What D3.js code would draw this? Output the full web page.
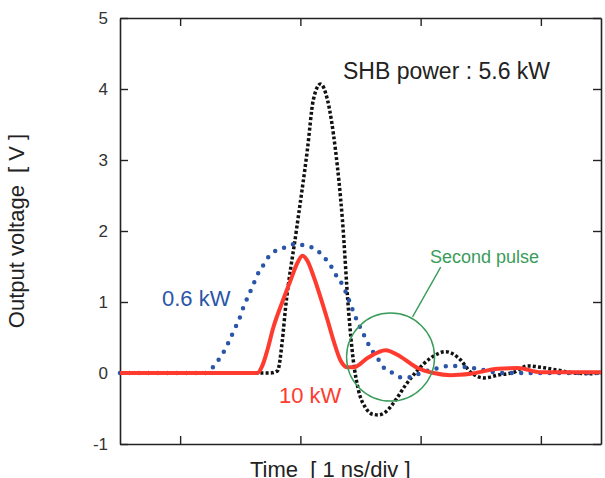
<!DOCTYPE html>
<html>
<head>
<meta charset="utf-8">
<script src="https://cdn.jsdelivr.net/npm/d3@7"></script>
<style>
  body { margin: 0; background: #fff; }
  text { font-family: "Liberation Sans", Arial, Helvetica, sans-serif; white-space: pre; }
</style>
</head>
<body>
<div id="chart"></div>
<script>
// time in ns (1 ns per division), voltage in V
var t_black = [-0.5, 0.75, 0.81, 0.85, 0.875, 0.967, 1.058, 1.108, 1.167, 1.225, 1.292, 1.35, 1.4, 1.44, 1.483, 1.542, 1.6, 1.65, 1.708, 1.792, 1.875, 1.975, 2.083, 2.208, 2.317, 2.417, 2.525, 2.642, 2.775, 2.892, 3.0, 3.142, 3.275, 3.417, 3.5];
var v_black = [0, 0, 0.03, 0.46, 0.89, 2.01, 3.14, 3.85, 4.07, 3.85, 3.14, 2.15, 0.89, 0.18, -0.24, -0.49, -0.58, -0.59, -0.55, -0.38, -0.17, 0.04, 0.21, 0.30, 0.21, 0.01, -0.07, -0.03, 0.01, 0.10, 0.08, 0.04, 0, -0.01, 0.01];

var t_blue = [-0.5, 0.208, 0.267, 0.317, 0.367, 0.408, 0.45, 0.492, 0.525, 0.6, 0.642, 0.692, 0.733, 0.792, 0.875, 0.958, 1.042, 1.125, 1.183, 1.242, 1.292, 1.35, 1.392, 1.425, 1.458, 1.5, 1.542, 1.583, 1.642, 1.692, 1.767, 1.833, 1.917, 2.0, 2.125, 2.25, 2.392, 2.525, 2.667, 3.5];
var v_blue = [0, 0, 0.07, 0.18, 0.31, 0.45, 0.61, 0.76, 0.92, 1.21, 1.38, 1.52, 1.63, 1.72, 1.77, 1.82, 1.79, 1.75, 1.65, 1.54, 1.39, 1.24, 1.08, 0.93, 0.79, 0.63, 0.49, 0.35, 0.21, 0.08, 0, -0.06, -0.06, 0, 0.06, 0.10, 0.08, 0.04, 0, 0];

var t_red = [-0.5, 0.642, 0.683, 0.725, 0.775, 0.85, 0.917, 0.975, 1.017, 1.058, 1.108, 1.167, 1.225, 1.275, 1.333, 1.392, 1.442, 1.558, 1.708, 1.833, 1.975, 2.108, 2.25, 2.417, 2.642, 2.808, 3.0, 3.192, 3.5];
var v_red = [0, 0, 0.1, 0.32, 0.64, 1.0, 1.3, 1.55, 1.65, 1.58, 1.37, 1.07, 0.75, 0.46, 0.18, 0.08, 0.08, 0.21, 0.32, 0.23, 0.07, 0, -0.03, -0.01, 0.06, 0.07, 0.01, 0.01, 0.01];

var y_ticks = [-1, 0, 1, 2, 3, 4, 5];
var x_ticks = [0, 1, 2, 3];

var width  = 605;
var height = 478;
var plot_left = 120, plot_right = 601, plot_top = 18, plot_bottom = 444;

var x_scale = d3.scaleLinear().domain([-0.5, 3.5]).range([plot_left, plot_right]);
var y_scale = d3.scaleLinear().domain([-1, 5]).range([plot_bottom, plot_top]);

var svg = d3.select('#chart')
	.append('svg')
	.attr('width', width)
	.attr('height', height);

function pairs(ts, vs) {
	return ts.map(function(t, i) { return { t: t, v: vs[i] }; });
}

// axes, ticks pointing inward on all four sides
var axis_color = '#222';
var y_left = svg.append('g')
	.attr('transform', 'translate(' + plot_left + ',0)')
	.call(d3.axisLeft(y_scale).tickValues(y_ticks).tickSize(-8).tickSizeOuter(0).tickPadding(12)
		.tickFormat(function(d) { return String(d); }));
svg.append('g')
	.attr('transform', 'translate(' + plot_right + ',0)')
	.call(d3.axisRight(y_scale).tickValues(y_ticks).tickSize(-8).tickSizeOuter(0).tickFormat(''));
svg.append('g')
	.attr('transform', 'translate(0,' + plot_bottom + ')')
	.call(d3.axisBottom(x_scale).tickValues(x_ticks).tickSize(-8).tickSizeOuter(0).tickFormat(''));
svg.append('g')
	.attr('transform', 'translate(0,' + plot_top + ')')
	.call(d3.axisTop(x_scale).tickValues(x_ticks).tickSize(-8).tickSizeOuter(0).tickFormat(''));

svg.selectAll('.domain').attr('stroke', axis_color).attr('stroke-width', 1.6);
svg.selectAll('.tick line').attr('stroke', axis_color).attr('stroke-width', 1.4);
y_left.selectAll('.tick text')
	.attr('font-size', 17)
	.attr('fill', '#333')
	.style('font-family', '"Liberation Sans", Arial, sans-serif');

// curves
var line = d3.line()
	.x(function(d) { return x_scale(d.t); })
	.y(function(d) { return y_scale(d.v); })
	.curve(d3.curveMonotoneX);

svg.append('path')
	.datum(pairs(t_black, v_black))
	.attr('fill', 'none')
	.attr('stroke', '#111')
	.attr('stroke-width', 3.5)
	.attr('stroke-dasharray', '3,2.2')
	.attr('d', line);

svg.append('path')
	.datum(pairs(t_blue, v_blue))
	.attr('fill', 'none')
	.attr('stroke', '#2a55a8')
	.attr('stroke-width', 4.5)
	.attr('stroke-linecap', 'round')
	.attr('stroke-dasharray', '0,9.5')
	.attr('d', line);

svg.append('path')
	.datum(pairs(t_red, v_red))
	.attr('fill', 'none')
	.attr('stroke', '#ff3b2f')
	.attr('stroke-width', 4)
	.attr('stroke-linejoin', 'round')
	.attr('d', line);

// second pulse marker
var green = '#3a9c5a';
svg.append('circle')
	.attr('cx', x_scale(1.75))
	.attr('cy', y_scale(0.225))
	.attr('r', 44)
	.attr('fill', 'none')
	.attr('stroke', green)
	.attr('stroke-width', 1.4);
svg.append('line')
	.attr('x1', x_scale(1.933)).attr('y1', y_scale(0.79))
	.attr('x2', x_scale(2.167)).attr('y2', y_scale(1.49))
	.attr('stroke', green)
	.attr('stroke-width', 1.4);

// labels
function label(x, y, txt, size, color) {
	svg.append('text')
		.attr('x', x).attr('y', y)
		.attr('font-size', size)
		.attr('fill', color)
		.text(txt);
}
label(343, 79, 'SHB power : 5.6 kW', 23, '#222');
label(162, 306, '0.6 kW', 22, '#2a55a8');
label(279, 403, '10 kW', 22, '#ff3b2f');
label(430, 263, 'Second pulse', 18, green);
label(250, 477, 'Time  [ 1 ns/div ]', 22, '#222');

svg.append('text')
	.attr('transform', 'translate(24,' + ((plot_top + plot_bottom) / 2) + ') rotate(-90)')
	.attr('text-anchor', 'middle')
	.attr('font-size', 22)
	.attr('fill', '#222')
	.text('Output voltage  [ V ]');
</script>
</body>
</html>
